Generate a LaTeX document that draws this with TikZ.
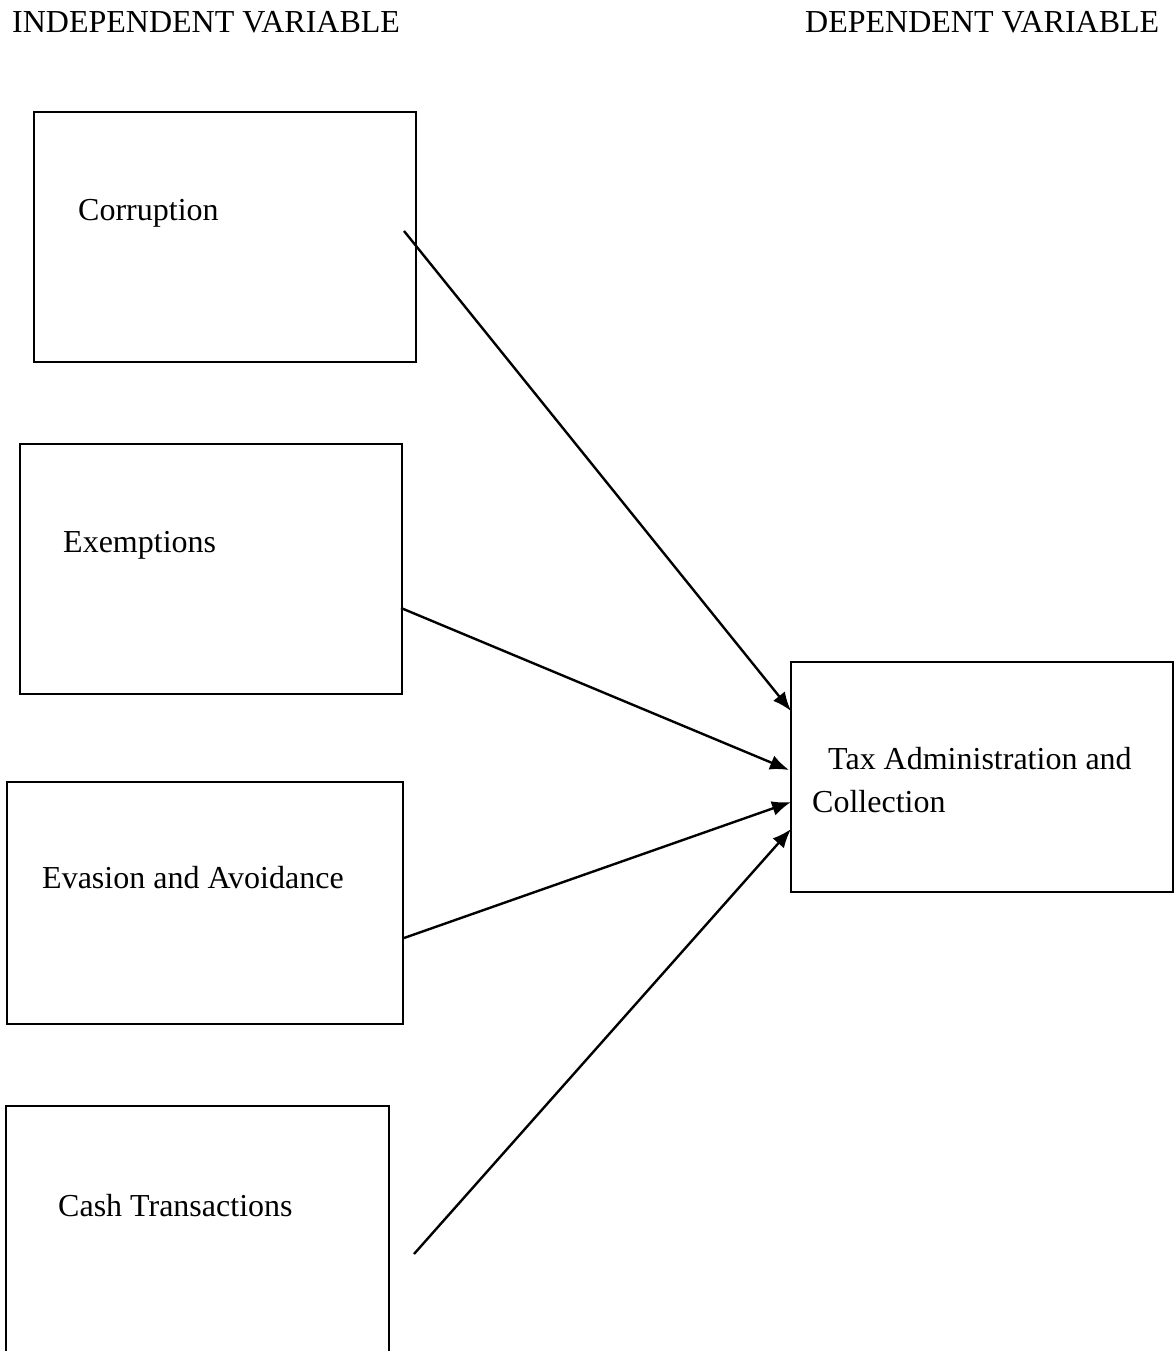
\documentclass[tikz,border=0pt]{standalone}
\usepackage{fontspec}
\setmainfont{Liberation Serif}
\usetikzlibrary{arrows.meta}
\begin{document}
\begin{tikzpicture}[x=1pt,y=-1pt,
  box/.style={draw, line width=2.2pt, inner sep=0pt, anchor=north west},
  lbl/.style={anchor=base west, inner sep=0pt, font=\fontsize{32}{38}\selectfont},
  arr/.style={line width=2.4pt, -{Latex[length=19pt,width=15pt]}}]
\useasboundingbox (0,0) rectangle (1175,1351);
\clip (0,0) rectangle (1175,1351);
% headers
\node[lbl] (hind) at (12,33) {INDEPENDENT VARIABLE};
\node[lbl] (hdep) at (805,33) {DEPENDENT VARIABLE};
% boxes
\node[box, minimum width=382pt, minimum height=250pt] (corr) at (33,111) {};
\node[box, minimum width=382pt, minimum height=250pt] (exem) at (19,443) {};
\node[box, minimum width=396pt, minimum height=242pt] (evas) at (6,781) {};
\node[box, minimum width=383pt, minimum height=300pt] (cash) at (5,1105) {};
\node[box, minimum width=382pt, minimum height=230pt] (tax) at (790,661) {};
% labels
\node[lbl] (tcorr) at (78,220) {Corruption};
\node[lbl] (texem) at (63,552) {Exemptions};
\node[lbl] (tevas) at (42,888) {Evasion and Avoidance};
\node[lbl] (tcash) at (58,1216) {Cash Transactions};
\node[lbl] (ttaxa) at (828,769) {Tax Administration and};
\node[lbl] (ttaxb) at (812,812) {Collection};
% connector ends
\coordinate (s1) at (404,231);
\coordinate (s2) at (401,608);
\coordinate (s3) at (404,938);
\coordinate (s4) at (414,1254);
\coordinate (e1) at (791,711);
\coordinate (e2) at (789,770);
\coordinate (e3) at (791,802);
\coordinate (e4) at (791,829);
\draw[arr] (s1) -- (e1);
\draw[arr] (s2) -- (e2);
\draw[arr] (s3) -- (e3);
\draw[arr] (s4) -- (e4);
\end{tikzpicture}
\end{document}
